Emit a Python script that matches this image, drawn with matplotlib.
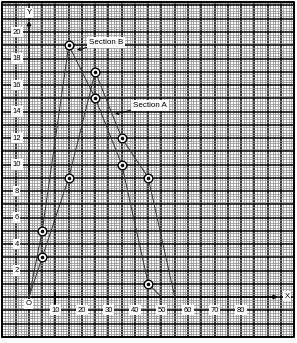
import matplotlib
matplotlib.use('Agg')
import matplotlib.pyplot as plt
import numpy as np

# ---- data ----
section_a_x = [0, 5, 15, 25, 35, 45, 55]
section_a_y = [0, 3, 9, 17, 12, 9, 0]
section_b_x = [0, 5, 15, 25, 35, 45, 50]
section_b_y = [0, 5, 19, 15, 10, 1, 0]
x_ticks = [10, 20, 30, 40, 50, 60, 70, 80]
y_ticks = [2, 4, 6, 8, 10, 12, 14, 16, 18, 20]

plt.rcParams['font.family'] = ['Liberation Sans', 'DejaVu Sans']

fig = plt.figure(figsize=(2.97, 3.43), dpi=100)
ax = fig.add_axes([0, 0, 1, 1])
ax.set_xlim(-10.94, 101.13)
ax.set_ylim(-3.47, 22.415)
ax.axis('off')

# graph paper
gx0, gx1 = -10, 100
gy0, gy1 = -3, 22.3
for xv in np.arange(gx0, gx1 + 0.01, 1.0):
    major = abs(xv / 5 - round(xv / 5)) < 1e-6
    ax.plot([xv, xv], [gy0, gy1], color='black' if major else '#8c8c8c',
            lw=1.1 if major else 0.5, zorder=1, solid_capstyle='butt')
for yv in np.arange(gy0, gy1 + 0.01, 0.2):
    major = abs(yv - round(yv)) < 1e-6
    ax.plot([gx0, gx1], [yv, yv], color='black' if major else '#8c8c8c',
            lw=1.1 if major else 0.5, zorder=1, solid_capstyle='butt')
ax.plot([gx0, gx1, gx1, gx0, gx0], [gy0, gy0, gy1, gy1, gy0], color='black', lw=1.4, zorder=2)

# axes arrows
ax.annotate('', xy=(95, 0), xytext=(0, 0),
            arrowprops=dict(arrowstyle='-|>', lw=1.0, color='black', mutation_scale=6), zorder=3)
ax.annotate('', xy=(0, 21.05), xytext=(0, 0),
            arrowprops=dict(arrowstyle='-|>', lw=1.0, color='black', mutation_scale=6), zorder=3)
ax.plot([10, 10], [-0.45, 0.3], color='black', lw=1.3, zorder=3)

box = dict(boxstyle='square,pad=0.2', fc='white', ec='none')
for t in y_ticks:
    ax.text(-4.6, t, str(t), ha='center', va='center', fontsize=5.5, bbox=box, zorder=4)
for t in x_ticks:
    ax.text(t, -1.0, str(t), ha='center', va='center', fontsize=5.5, bbox=box, zorder=4)
ax.text(-0.3, -0.5, 'O', ha='center', va='center', fontsize=5.5, bbox=box, zorder=4)
ax.text(0.1, 21.45, 'Y', ha='center', va='center', fontsize=5.5, bbox=box, zorder=4)
ax.text(97.5, 0.05, 'X', ha='center', va='center', fontsize=5.5, bbox=box, zorder=4)

# polygons
for xs, ys in [(section_a_x, section_a_y), (section_b_x, section_b_y)]:
    ax.plot(xs, ys, color='#333333', lw=0.7, zorder=5)
    ax.plot(xs[1:-1], ys[1:-1], 'o', ms=6.2, mfc='white', mec='black', mew=1.0, zorder=6)
    ax.plot(xs[1:-1], ys[1:-1], 'o', ms=2.6, mfc='black', mec='black', mew=0, zorder=7)

ax.annotate('Section B', xy=(18.1, 18.64), xytext=(29.0, 19.2), ha='center', va='center',
            fontsize=5.8, bbox=box, zorder=8,
            arrowprops=dict(arrowstyle='->', lw=0.7, color='black', mutation_scale=5, shrinkA=0, shrinkB=0))
ax.annotate('Section A', xy=(32.45, 13.81), xytext=(45.66, 14.45), ha='center', va='center',
            fontsize=5.8, bbox=box, zorder=8,
            arrowprops=dict(arrowstyle='->', lw=0.7, color='black', mutation_scale=5, shrinkA=0, shrinkB=0))

fig.savefig('out.png', dpi=100)
